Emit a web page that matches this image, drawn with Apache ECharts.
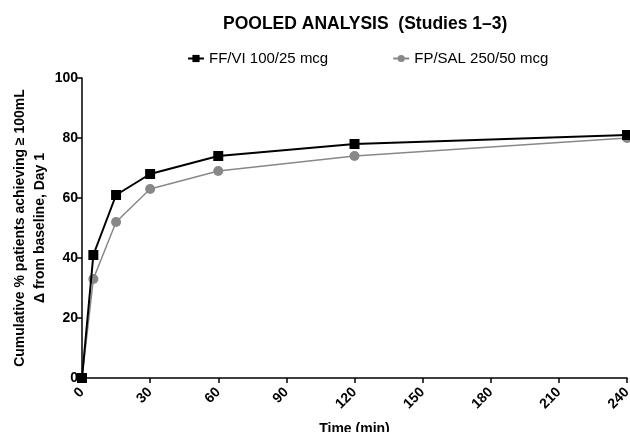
<!DOCTYPE html>
<html>
<head>
<meta charset="utf-8">
<script src="https://cdn.jsdelivr.net/npm/echarts@6/dist/echarts.min.js"></script>
<style>
  html, body { margin: 0; padding: 0; background: #fff; }
  #chart { width: 630px; height: 432px; }
</style>
</head>
<body>
<div id="chart"></div>
<script>
// 数据
const times = [0, 5, 15, 30, 60, 120, 240];
const ffviValues = [0, 41, 61, 68, 74, 78, 81];
const fpsalValues = [0, 33, 52, 63, 69, 74, 80];
const xTicks = [0, 30, 60, 90, 120, 150, 180, 210, 240];
const yTicks = [0, 20, 40, 60, 80, 100];

const font = 'Liberation Sans, Arial, sans-serif';
const toPairs = (xs, ys) => xs.map((x, i) => [x, ys[i]]);

const chart = echarts.init(document.getElementById('chart'));
chart.setOption({
    animation: false,
    title: {
        text: 'POOLED ANALYSIS  (Studies 1\u20133)',
        left: 218,
        top: 10,
        textStyle: { fontFamily: font, fontSize: 17.5, fontWeight: 'bold', color: '#000' }
    },
    legend: {
        top: 46,
        left: 182,
        itemGap: 64,
        itemWidth: 16,
        itemHeight: 9,
        textStyle: { fontFamily: font, fontSize: 15, color: '#000' },
        data: ['FF/VI 100/25 mcg', 'FP/SAL 250/50 mcg']
    },
    grid: { left: 82, right: 3, top: 78, bottom: 54, outerBoundsMode: 'none' },
    xAxis: {
        type: 'value',
        min: xTicks[0],
        max: xTicks[xTicks.length - 1],
        interval: 30,
        name: 'Time (min)',
        nameLocation: 'middle',
        nameGap: 44,
        nameMoveOverlap: false,
        nameTextStyle: { fontFamily: font, fontSize: 14, fontWeight: 'bold', color: '#000' },
        axisLine: { lineStyle: { color: '#000', width: 1.5 } },
        axisTick: { show: true, length: 5, lineStyle: { color: '#000', width: 1.5 } },
        axisLabel: {
            rotate: 45, fontFamily: font, fontSize: 14, fontWeight: 'bold', color: '#000', margin: 12,
            customValues: xTicks
        },
        splitLine: { show: false }
    },
    yAxis: {
        type: 'value',
        min: yTicks[0],
        max: yTicks[yTicks.length - 1],
        interval: 20,
        name: 'Cumulative % patients achieving \u2265 100mL\n\u0394 from baseline, Day 1',
        nameLocation: 'middle',
        nameGap: 32,
        nameMoveOverlap: false,
        nameTextStyle: { fontFamily: font, fontSize: 14, fontWeight: 'bold', color: '#000', lineHeight: 20 },
        axisLine: { show: true, lineStyle: { color: '#000', width: 1.5 } },
        axisTick: { show: true, length: 5, lineStyle: { color: '#000', width: 1.5 } },
        axisLabel: { fontFamily: font, fontSize: 14, fontWeight: 'bold', color: '#000', margin: 4 },
        splitLine: { show: false }
    },
    series: [
        {
            name: 'FF/VI 100/25 mcg',
            type: 'line',
            data: toPairs(times, ffviValues),
            symbol: 'rect',
            symbolSize: 10,
            z: 3,
            lineStyle: { color: '#000', width: 2 },
            itemStyle: { color: '#000' }
        },
        {
            name: 'FP/SAL 250/50 mcg',
            type: 'line',
            data: toPairs(times, fpsalValues),
            symbol: 'circle',
            symbolSize: 10,
            z: 2,
            lineStyle: { color: '#888', width: 1.5 },
            itemStyle: { color: '#888' }
        }
    ]
});
</script>
</body>
</html>
